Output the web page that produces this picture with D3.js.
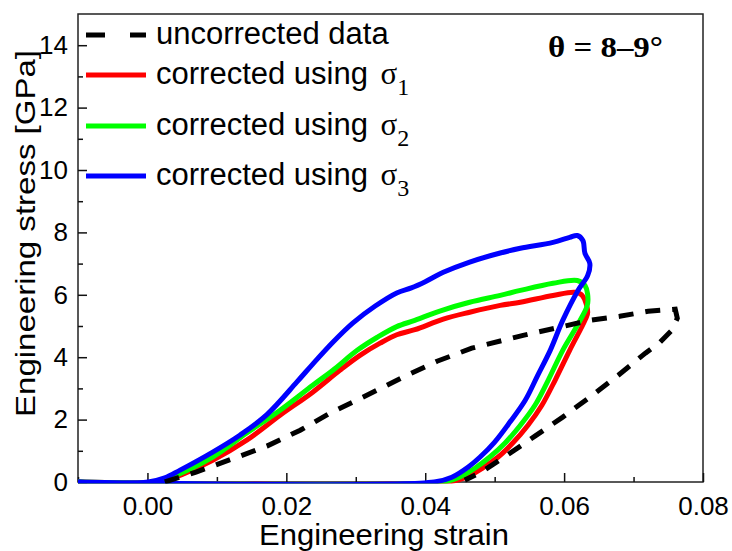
<!DOCTYPE html>
<html>
<head>
<meta charset="utf-8">
<script src="https://cdn.jsdelivr.net/npm/d3@7"></script>
<style>
  body { margin: 0; background: #fff; }
  svg { display: block; font-family: "Liberation Sans", Arial, sans-serif; }
</style>
</head>
<body>
<svg id="chart" width="732" height="551"></svg>
<script>
// Data: [strain, stress in GPa]
const uncorrected = [
  [0.0025, 0], [0.0070, 0.32], [0.0126, 0.77], [0.0172, 1.15], [0.0220, 1.66],
  [0.0263, 2.21], [0.0313, 2.75], [0.0368, 3.36], [0.0417, 3.87], [0.0467, 4.29],
  [0.0541, 4.70], [0.0587, 4.93], [0.0637, 5.18], [0.0680, 5.31], [0.0721, 5.47],
  [0.0760, 5.54], [0.0763, 5.25], [0.0755, 4.86], [0.0738, 4.48], [0.0717, 4.13],
  [0.0678, 3.42], [0.0637, 2.72], [0.0598, 2.08], [0.0558, 1.47], [0.0518, 0.86],
  [0.0479, 0.29], [0.0457, 0.06]
];
const sigma1 = [
  [-0.01, 0], [0.0018, 0], [0.0037, 0.13], [0.0094, 0.70], [0.0143, 1.34],
  [0.0191, 2.14], [0.0238, 2.88], [0.0277, 3.58], [0.0306, 4.06],
  [0.0335, 4.45], [0.0359, 4.72], [0.0385, 4.88], [0.0426, 5.22], [0.0464, 5.44],
  [0.0508, 5.66], [0.0537, 5.76], [0.0584, 5.98], [0.0616, 6.08], [0.0626, 5.98],
  [0.0634, 5.44], [0.0630, 5.18], [0.0608, 4.22], [0.0587, 3.26], [0.0568, 2.46],
  [0.0548, 1.82], [0.0526, 1.25], [0.0505, 0.80], [0.0483, 0.45], [0.0460, 0.16],
  [0.0433, 0], [-0.01, 0]
];
const sigma2 = [
  [-0.01, 0], [0.0014, 0], [0.0032, 0.13], [0.0094, 0.80], [0.0143, 1.57],
  [0.0191, 2.30], [0.0238, 3.10], [0.0267, 3.58], [0.0302, 4.22],
  [0.0331, 4.64], [0.0359, 4.98], [0.0385, 5.18], [0.0421, 5.48], [0.0464, 5.76],
  [0.0508, 5.98], [0.0537, 6.14], [0.0584, 6.37], [0.0619, 6.46], [0.0630, 6.30],
  [0.0634, 5.73], [0.0623, 5.18], [0.0598, 4.22], [0.0577, 3.26], [0.0558, 2.46],
  [0.0537, 1.82], [0.0515, 1.25], [0.0493, 0.80], [0.0472, 0.45], [0.0450, 0.16],
  [0.0426, 0], [-0.01, 0]
];
const sigma3 = [
  [-0.01, 0], [0.0001, 0], [0.0025, 0.13], [0.0047, 0.38], [0.0094, 0.96],
  [0.0133, 1.50], [0.0172, 2.16], [0.0215, 3.20], [0.0238, 3.78],
  [0.0267, 4.48], [0.0296, 5.10], [0.0328, 5.64], [0.0359, 6.06], [0.0380, 6.22],
  [0.0400, 6.42], [0.0426, 6.72], [0.0464, 7.05], [0.0508, 7.34], [0.0537, 7.49],
  [0.0584, 7.68], [0.0608, 7.84], [0.0619, 7.90], [0.0627, 7.74], [0.0630, 7.33],
  [0.0637, 7.01], [0.0634, 6.62], [0.0620, 6.14], [0.0598, 5.18], [0.0580, 4.22],
  [0.0562, 3.42], [0.0544, 2.62], [0.0522, 1.92], [0.0500, 1.28], [0.0479, 0.80],
  [0.0462, 0.48], [0.0439, 0.16], [0.0413, 0], [-0.01, 0]
];

const xTicks = [0, 0.02, 0.04, 0.06, 0.08];
const xMinorTicks = [-0.01, 0.01, 0.03, 0.05, 0.07];
const yTicks = [0, 2, 4, 6, 8, 10, 12, 14];
const yMinorTicks = [1, 3, 5, 7, 9, 11, 13];

const legendLabels = ["uncorrected data", "corrected using ", "corrected using ", "corrected using "];
const legendSubs = ["", "1", "2", "3"];
const seriesColors = ["#000000", "#ff0000", "#00ff00", "#0000ff"];

// Layout
const plotLeft = 78, plotRight = 703, plotTop = 14, plotBottom = 482;

const svg = d3.select("#chart");

const x = d3.scaleLinear().domain([-0.01, 0.08]).range([plotLeft, plotRight]);
const y = d3.scaleLinear().domain([0, 15]).range([plotBottom, plotTop]);

// Frame first so the curves sit on top of it
svg.append("rect")
  .attr("x", plotLeft).attr("y", plotTop)
  .attr("width", plotRight - plotLeft).attr("height", plotBottom - plotTop)
  .attr("fill", "none")
  .attr("stroke", "#222")
  .attr("stroke-width", 1.5);

// Axes (ticks point inward)
svg.append("g")
  .attr("transform", `translate(0,${plotBottom})`)
  .call(d3.axisBottom(x).tickValues(xTicks).tickFormat(d3.format(".2f"))
    .tickSizeInner(-9).tickSizeOuter(0).tickPadding(15));
svg.append("g")
  .attr("transform", `translate(0,${plotBottom})`)
  .call(d3.axisBottom(x).tickValues(xMinorTicks).tickFormat("")
    .tickSizeInner(-5).tickSizeOuter(0));

svg.append("g")
  .attr("transform", `translate(${plotLeft},0)`)
  .call(d3.axisLeft(y).tickValues(yTicks)
    .tickSizeInner(-9).tickSizeOuter(0).tickPadding(10));
svg.append("g")
  .attr("transform", `translate(${plotLeft},0)`)
  .call(d3.axisLeft(y).tickValues(yMinorTicks).tickFormat("")
    .tickSizeInner(-5).tickSizeOuter(0));

svg.selectAll(".domain").remove();
svg.selectAll(".tick line").attr("stroke", "#111").attr("stroke-width", 1.5);
svg.selectAll(".tick text")
  .attr("fill", "#000")
  .style("font-size", "26px")
  .style("font-family", "'Liberation Sans', Arial, sans-serif");

svg.append("clipPath").attr("id", "plotClip")
  .append("rect")
  .attr("x", plotLeft).attr("y", plotTop)
  .attr("width", plotRight - plotLeft).attr("height", plotBottom - plotTop + 1.5);

const smooth = d3.line()
  .x(d => x(d[0]))
  .y(d => y(d[1]))
  .curve(d3.curveCatmullRom.alpha(0.5));

const straight = d3.line()
  .x(d => x(d[0]))
  .y(d => y(d[1]));

const plot = svg.append("g").attr("clip-path", "url(#plotClip)");

// colored curves, red under green under blue
[sigma1, sigma2, sigma3].forEach((s, i) => {
  plot.append("path")
    .datum(s)
    .attr("d", smooth)
    .attr("fill", "none")
    .attr("stroke", seriesColors[i + 1])
    .attr("stroke-width", 5)
    .attr("stroke-linejoin", "round");
});

plot.append("path")
  .datum(uncorrected)
  .attr("d", straight)
  .attr("fill", "none")
  .attr("stroke", "#000")
  .attr("stroke-width", 5)
  .attr("stroke-dasharray", "15,12");

// Axis titles
svg.append("text")
  .attr("x", 259).attr("y", 545)
  .attr("textLength", 250)
  .attr("lengthAdjust", "spacingAndGlyphs")
  .style("font-size", "29px")
  .text("Engineering strain");

svg.append("text")
  .attr("transform", "translate(35,417) rotate(-90)")
  .attr("textLength", 367)
  .attr("lengthAdjust", "spacingAndGlyphs")
  .style("font-size", "28px")
  .text("Engineering stress [GPa]");

// Angle annotation
svg.append("text")
  .attr("x", 548).attr("y", 57)
  .attr("textLength", 115)
  .attr("lengthAdjust", "spacingAndGlyphs")
  .style("font-family", "'Liberation Serif', 'Times New Roman', serif")
  .style("font-weight", "bold")
  .style("font-size", "29px")
  .text("θ = 8–9°");

// Legend
const legendRowY = [35, 75, 126, 176];
const legend = svg.append("g");
legendLabels.forEach((label, i) => {
  const ly = legendRowY[i];
  legend.append("line")
    .attr("x1", 86).attr("x2", 146)
    .attr("y1", ly).attr("y2", ly)
    .attr("stroke", seriesColors[i])
    .attr("stroke-width", 5)
    .attr("stroke-dasharray", i === 0 ? "19,25" : null);

  const t = legend.append("text")
    .attr("x", 156)
    .attr("y", ly + 9)
    .style("font-size", "31px");
  t.append("tspan").text(label);
  if (legendSubs[i]) {
    t.append("tspan")
      .style("font-family", "'Liberation Serif', 'Times New Roman', serif")
      .style("font-size", "31px")
      .attr("dx", 4)
      .text("σ");
    t.append("tspan")
      .style("font-family", "'Liberation Serif', 'Times New Roman', serif")
      .style("font-size", "24px")
      .attr("dy", 11)
      .text(legendSubs[i]);
  }
});
</script>
</body>
</html>
